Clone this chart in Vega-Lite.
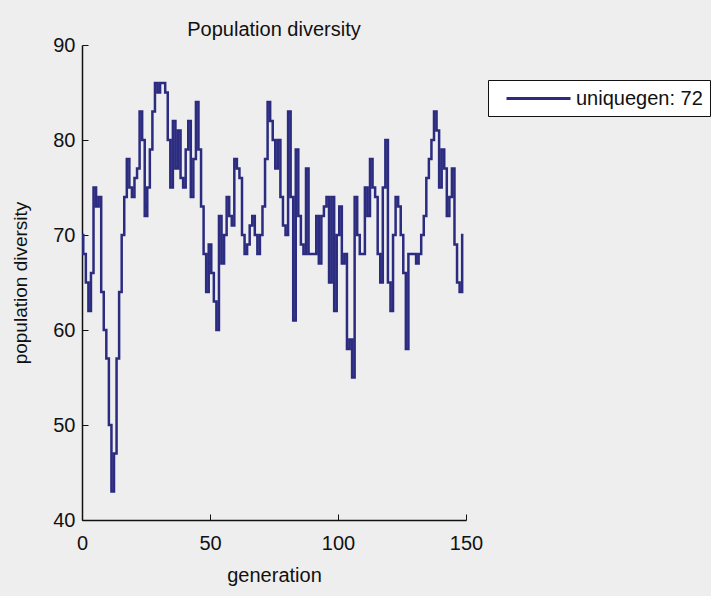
{
  "$schema": "https://vega.github.io/schema/vega-lite/v6.json",
  "width": 384,
  "height": 475,
  "autosize": {"type": "none"},
  "padding": {"left": 82, "top": 45, "right": 245, "bottom": 76},
  "background": "#eeeeee",
  "title": {
    "text": "Population diversity",
    "font": "Liberation Sans",
    "fontSize": 20,
    "fontWeight": "normal",
    "color": "#111111",
    "anchor": "middle",
    "offset": -5
  },
  "data": {
    "values": [
      {"generation": 0, "diversity": 70}, {"generation": 1, "diversity": 68}, {"generation": 2, "diversity": 65},
      {"generation": 3, "diversity": 62}, {"generation": 4, "diversity": 66}, {"generation": 5, "diversity": 75},
      {"generation": 6, "diversity": 73}, {"generation": 7, "diversity": 74}, {"generation": 8, "diversity": 64},
      {"generation": 9, "diversity": 60}, {"generation": 10, "diversity": 57}, {"generation": 11, "diversity": 50},
      {"generation": 12, "diversity": 43}, {"generation": 13, "diversity": 47}, {"generation": 14, "diversity": 57},
      {"generation": 15, "diversity": 64}, {"generation": 16, "diversity": 70}, {"generation": 17, "diversity": 74},
      {"generation": 18, "diversity": 78}, {"generation": 19, "diversity": 75}, {"generation": 20, "diversity": 74},
      {"generation": 21, "diversity": 76}, {"generation": 22, "diversity": 77}, {"generation": 23, "diversity": 83},
      {"generation": 24, "diversity": 80}, {"generation": 25, "diversity": 72}, {"generation": 26, "diversity": 75},
      {"generation": 27, "diversity": 79}, {"generation": 28, "diversity": 83}, {"generation": 29, "diversity": 86},
      {"generation": 30, "diversity": 85}, {"generation": 31, "diversity": 86}, {"generation": 32, "diversity": 86},
      {"generation": 33, "diversity": 85}, {"generation": 34, "diversity": 80}, {"generation": 35, "diversity": 75},
      {"generation": 36, "diversity": 82}, {"generation": 37, "diversity": 77}, {"generation": 38, "diversity": 81},
      {"generation": 39, "diversity": 76}, {"generation": 40, "diversity": 75}, {"generation": 41, "diversity": 79},
      {"generation": 42, "diversity": 82}, {"generation": 43, "diversity": 74}, {"generation": 44, "diversity": 78},
      {"generation": 45, "diversity": 84}, {"generation": 46, "diversity": 79}, {"generation": 47, "diversity": 73},
      {"generation": 48, "diversity": 68}, {"generation": 49, "diversity": 64}, {"generation": 50, "diversity": 69},
      {"generation": 51, "diversity": 66}, {"generation": 52, "diversity": 63}, {"generation": 53, "diversity": 60},
      {"generation": 54, "diversity": 72}, {"generation": 55, "diversity": 67}, {"generation": 56, "diversity": 70},
      {"generation": 57, "diversity": 74}, {"generation": 58, "diversity": 72}, {"generation": 59, "diversity": 71},
      {"generation": 60, "diversity": 78}, {"generation": 61, "diversity": 77}, {"generation": 62, "diversity": 76},
      {"generation": 63, "diversity": 70}, {"generation": 64, "diversity": 68}, {"generation": 65, "diversity": 69},
      {"generation": 66, "diversity": 71}, {"generation": 67, "diversity": 72}, {"generation": 68, "diversity": 70},
      {"generation": 69, "diversity": 68}, {"generation": 70, "diversity": 70}, {"generation": 71, "diversity": 73},
      {"generation": 72, "diversity": 78}, {"generation": 73, "diversity": 84}, {"generation": 74, "diversity": 82},
      {"generation": 75, "diversity": 80}, {"generation": 76, "diversity": 77}, {"generation": 77, "diversity": 80},
      {"generation": 78, "diversity": 74}, {"generation": 79, "diversity": 71}, {"generation": 80, "diversity": 70},
      {"generation": 81, "diversity": 83}, {"generation": 82, "diversity": 74}, {"generation": 83, "diversity": 61},
      {"generation": 84, "diversity": 79}, {"generation": 85, "diversity": 72}, {"generation": 86, "diversity": 69},
      {"generation": 87, "diversity": 68}, {"generation": 88, "diversity": 77}, {"generation": 89, "diversity": 68},
      {"generation": 90, "diversity": 68}, {"generation": 91, "diversity": 68}, {"generation": 92, "diversity": 72},
      {"generation": 93, "diversity": 67}, {"generation": 94, "diversity": 72}, {"generation": 95, "diversity": 73},
      {"generation": 96, "diversity": 74}, {"generation": 97, "diversity": 65}, {"generation": 98, "diversity": 74},
      {"generation": 99, "diversity": 62}, {"generation": 100, "diversity": 70}, {"generation": 101, "diversity": 73},
      {"generation": 102, "diversity": 67}, {"generation": 103, "diversity": 68}, {"generation": 104, "diversity": 58},
      {"generation": 105, "diversity": 59}, {"generation": 106, "diversity": 55}, {"generation": 107, "diversity": 74},
      {"generation": 108, "diversity": 70}, {"generation": 109, "diversity": 68}, {"generation": 110, "diversity": 68},
      {"generation": 111, "diversity": 75}, {"generation": 112, "diversity": 72}, {"generation": 113, "diversity": 78},
      {"generation": 114, "diversity": 75}, {"generation": 115, "diversity": 74}, {"generation": 116, "diversity": 68},
      {"generation": 117, "diversity": 65}, {"generation": 118, "diversity": 75}, {"generation": 119, "diversity": 80},
      {"generation": 120, "diversity": 65}, {"generation": 121, "diversity": 62}, {"generation": 122, "diversity": 70},
      {"generation": 123, "diversity": 74}, {"generation": 124, "diversity": 73}, {"generation": 125, "diversity": 70},
      {"generation": 126, "diversity": 66}, {"generation": 127, "diversity": 58}, {"generation": 128, "diversity": 68},
      {"generation": 129, "diversity": 68}, {"generation": 130, "diversity": 68}, {"generation": 131, "diversity": 67},
      {"generation": 132, "diversity": 68}, {"generation": 133, "diversity": 70}, {"generation": 134, "diversity": 72},
      {"generation": 135, "diversity": 76}, {"generation": 136, "diversity": 78}, {"generation": 137, "diversity": 80},
      {"generation": 138, "diversity": 83}, {"generation": 139, "diversity": 81}, {"generation": 140, "diversity": 75},
      {"generation": 141, "diversity": 79}, {"generation": 142, "diversity": 77}, {"generation": 143, "diversity": 72},
      {"generation": 144, "diversity": 74}, {"generation": 145, "diversity": 77}, {"generation": 146, "diversity": 69},
      {"generation": 147, "diversity": 65}, {"generation": 148, "diversity": 64}, {"generation": 149, "diversity": 70}
    ]
  },
  "mark": {"type": "line", "interpolate": "step", "strokeWidth": 2.5},
  "encoding": {
    "x": {
      "field": "generation",
      "type": "quantitative",
      "scale": {"domain": [0, 150], "nice": false, "zero": false},
      "axis": {
        "title": "generation",
        "values": [0, 50, 100, 150],
        "grid": false,
        "tickSize": -6,
        "tickColor": "#111111",
        "domainColor": "#111111",
        "domainWidth": 1.5,
        "labelFont": "Liberation Sans",
        "labelFontSize": 20,
        "labelColor": "#111111",
        "labelPadding": 19,
        "titleFont": "Liberation Sans",
        "titleFontSize": 20,
        "titleFontWeight": "normal",
        "titleColor": "#111111",
        "titlePadding": 12,
        "labelFlush": false
      }
    },
    "y": {
      "field": "diversity",
      "type": "quantitative",
      "scale": {"domain": [40, 90], "nice": false, "zero": false},
      "axis": {
        "title": "population diversity",
        "values": [40, 50, 60, 70, 80, 90],
        "grid": false,
        "tickSize": -6,
        "tickColor": "#111111",
        "domainColor": "#111111",
        "domainWidth": 1.5,
        "labelFont": "Liberation Sans",
        "labelFontSize": 20,
        "labelColor": "#111111",
        "labelPadding": 13,
        "titleFont": "Liberation Sans",
        "titleFontSize": 19,
        "titleFontWeight": "normal",
        "titleColor": "#111111",
        "titlePadding": 22,
        "labelFlush": false
      }
    },
    "color": {
      "datum": "uniquegen: 72",
      "type": "nominal",
      "scale": {"range": ["#2b2b80"]},
      "legend": {
        "title": null,
        "orient": "none",
        "legendX": 406,
        "legendY": 35,
        "symbolType": "M0,0H6.4",
        "symbolSize": 400,
        "symbolStrokeWidth": 3,
        "labelFont": "Liberation Sans",
        "labelFontSize": 20,
        "labelColor": "#111111",
        "labelOffset": 58,
        "padding": 7,
        "strokeColor": "#111111",
        "fillColor": "#ffffff"
      }
    }
  },
  "config": {"view": {"stroke": null}}
}
